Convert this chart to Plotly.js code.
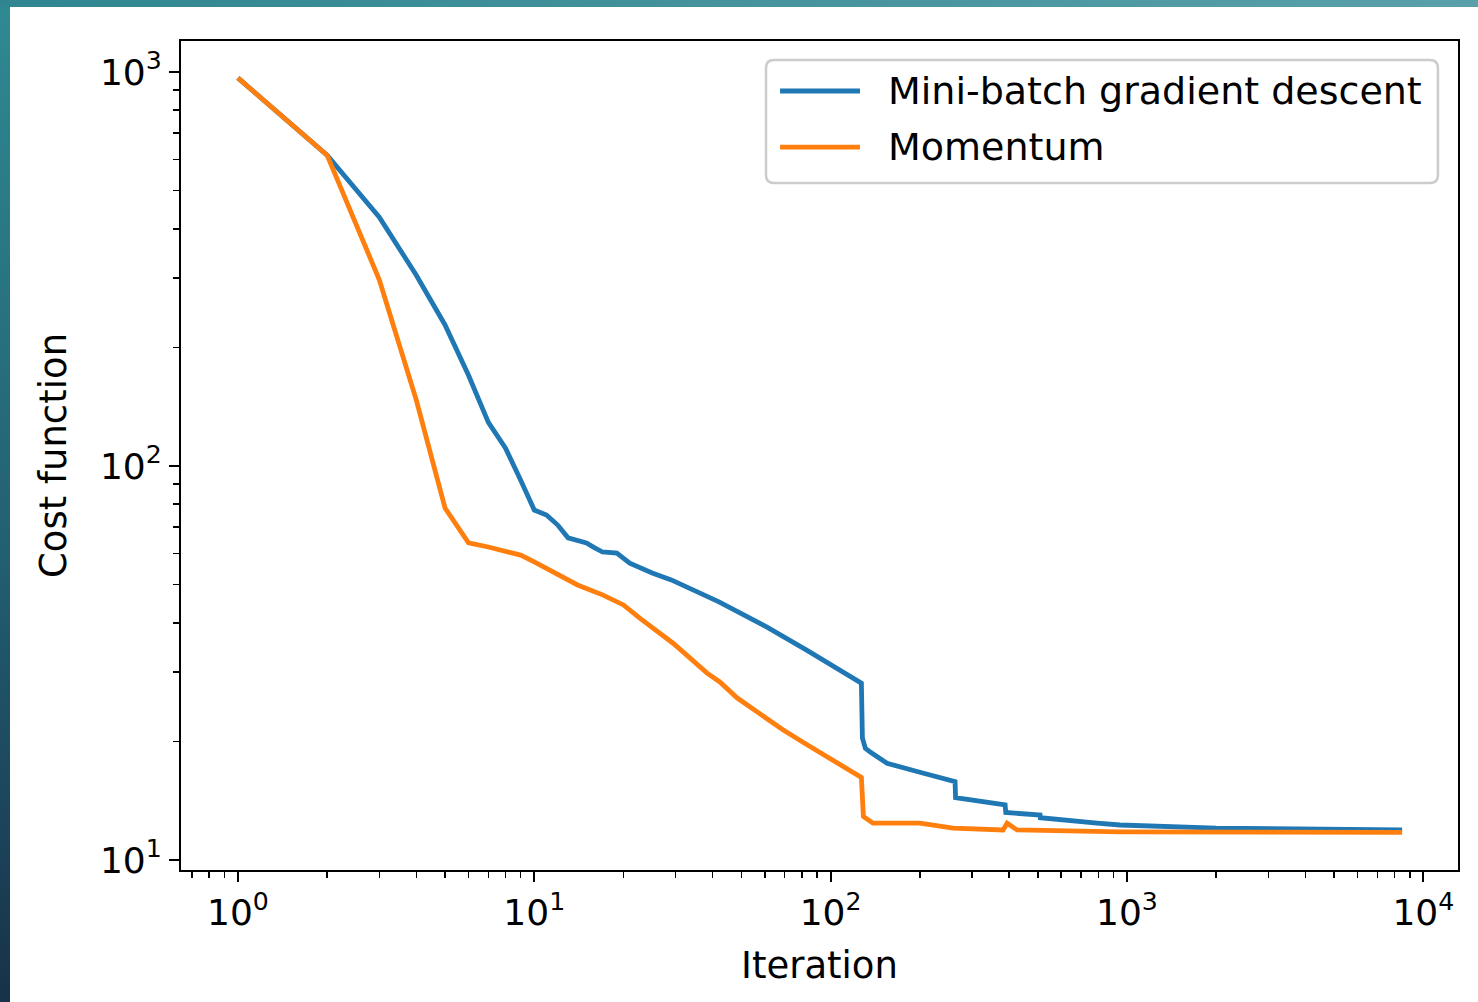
<!DOCTYPE html>
<html>
<head>
<meta charset="utf-8">
<script src="https://cdn.plot.ly/plotly-3.0.1.min.js"></script>
<style>
  html, body { margin:0; padding:0; width:1478px; height:1002px; overflow:hidden; }
  body { background: linear-gradient(to bottom, #2f8a94 0%, #235f72 55%, #17324a 100%); position:relative; }
  #topstrip { position:absolute; left:0; top:0; width:1478px; height:7px; background: linear-gradient(to right, #2f8690, #5aa0aa); }
  #chart { position:absolute; left:10px; top:7px; width:1468px; height:995px; background:#fff; }
</style>
</head>
<body>
<div id="topstrip"></div>
<div id="chart"></div>
<script>
// Data
const seriesNames = ["Mini-batch gradient descent", "Momentum"];
const seriesColors = ["#1f77b4", "#ff7f0e"];
const miniBatchIter = [1, 2, 3, 4, 5, 6, 7, 8, 9, 10, 11, 12, 13, 14, 15, 16, 17, 19, 21, 25, 29, 42, 61, 83, 108, 127, 128, 131, 136, 145, 155, 200, 263, 264, 382, 388, 390, 509, 510, 643, 793, 948, 2000, 8480];
const miniBatchCost = [966, 615, 428, 305, 228, 170, 129, 111, 92, 77.3, 75.1, 70.8, 65.7, 64.9, 63.8, 62, 60.5, 60.1, 56.7, 53.5, 51.4, 45.2, 39.0, 34.1, 30.4, 28.1, 20.4, 19.2, 18.8, 18.2, 17.6, 16.7, 15.8, 14.4, 13.8, 13.8, 13.2, 13.0, 12.8, 12.56, 12.4, 12.27, 12.05, 11.92];
const momentumIter = [1, 2, 3, 4, 5, 6, 7, 9, 10, 13, 14, 17, 20, 22.7, 29.4, 38.3, 42.3, 48.3, 53.4, 61, 69, 80.7, 94.3, 127, 129, 139, 200, 259, 382, 394, 426, 564, 948, 8480];
const momentumCost = [966, 615, 297, 147, 78.2, 63.8, 62.3, 59.4, 57.1, 51.4, 49.9, 47.1, 44.4, 41.1, 35.5, 29.8, 28.3, 25.8, 24.5, 22.7, 21.4, 19.9, 18.5, 16.2, 12.9, 12.4, 12.4, 12.05, 11.92, 12.4, 11.92, 11.85, 11.78, 11.75];
const xTickVals = [1, 10, 100, 1000, 10000];
const xTickText = ["10<sup>0</sup>", "10<sup>1</sup>", "10<sup>2</sup>", "10<sup>3</sup>", "10<sup>4</sup>"];
const yTickVals = [10, 100, 1000];
const yTickText = ["10<sup>1</sup>", "10<sup>2</sup>", "10<sup>3</sup>"];
const xTitle = "Iteration";
const yTitle = "Cost function";

// minor log tick positions (2..9 within each decade)
function minorTicks(d0, d1) {
  const out = [];
  for (let d = d0; d <= d1; d++) for (let m = 2; m <= 9; m++) out.push(m * Math.pow(10, d));
  return out;
}

const font = "DejaVu Sans, sans-serif";
const LW = 4.8;
const traces = [
  { x: miniBatchIter, y: miniBatchCost, name: seriesNames[0], type: "scatter", mode: "lines",
    line: { color: seriesColors[0], width: LW } },
  { x: momentumIter, y: momentumCost, name: seriesNames[1], type: "scatter", mode: "lines",
    line: { color: seriesColors[1], width: LW } }
];

const axisCommon = {
  type: "log", showgrid: false, zeroline: false, showline: true, mirror: true,
  linecolor: "black", linewidth: 2, ticks: "outside", ticklen: 10, tickwidth: 2,
  tickcolor: "black", tickmode: "array",
  tickfont: { family: font, size: 36, color: "black" }
};

// Legend box (matplotlib style) built from layout shapes + annotations
const lg = { x0: 0.4581, x1: 0.9843, y0: 0.8287, y1: 0.9771, rx: 8 / 1277, ry: 8 / 829 };
const boxPath =
  `M${lg.x0 + lg.rx},${lg.y1} L${lg.x1 - lg.rx},${lg.y1} Q${lg.x1},${lg.y1} ${lg.x1},${lg.y1 - lg.ry} ` +
  `L${lg.x1},${lg.y0 + lg.ry} Q${lg.x1},${lg.y0} ${lg.x1 - lg.rx},${lg.y0} ` +
  `L${lg.x0 + lg.rx},${lg.y0} Q${lg.x0},${lg.y0} ${lg.x0},${lg.y0 + lg.ry} ` +
  `L${lg.x0},${lg.y1 - lg.ry} Q${lg.x0},${lg.y1} ${lg.x0 + lg.rx},${lg.y1} Z`;
const legendRows = [0.9397, 0.8721];
const shapes = [
  { type: "path", xref: "paper", yref: "paper", path: boxPath,
    fillcolor: "rgba(255,255,255,0.8)", line: { color: "#cccccc", width: 2.5 }, layer: "above" }
];
const annotations = [];
seriesNames.forEach((nm, i) => {
  shapes.push({ type: "line", xref: "paper", yref: "paper", x0: 0.4691, x1: 0.5317,
    y0: legendRows[i], y1: legendRows[i], line: { color: seriesColors[i], width: LW }, layer: "above" });
  annotations.push({ xref: "paper", yref: "paper", x: 0.5520, y: legendRows[i], xanchor: "left", yanchor: "middle",
    text: nm, showarrow: false, font: { family: font, size: 38, color: "black" } });
});

const layout = {
  width: 1468, height: 995,
  margin: { l: 171, r: 20, t: 34, b: 132 },
  paper_bgcolor: "white", plot_bgcolor: "white",
  font: { family: font, color: "black" },
  showlegend: false,
  shapes: shapes,
  annotations: annotations,
  xaxis: Object.assign({}, axisCommon, {
    range: [-0.192, 4.117],
    tickvals: xTickVals, ticktext: xTickText,
    minor: { tickmode: "array", tickvals: minorTicks(-1, 3), ticks: "outside", ticklen: 6, tickwidth: 1.5, tickcolor: "black", showgrid: false },
    title: { text: xTitle, font: { family: font, size: 37, color: "black" }, standoff: 20 }
  }),
  yaxis: Object.assign({}, axisCommon, {
    range: [0.9746, 3.0787],
    tickvals: yTickVals, ticktext: yTickText,
    minor: { tickmode: "array", tickvals: minorTicks(0, 2), ticks: "outside", ticklen: 6, tickwidth: 1.5, tickcolor: "black", showgrid: false },
    title: { text: yTitle, font: { family: font, size: 37, color: "black" }, standoff: 22 }
  })
};

Plotly.newPlot("chart", traces, layout, { staticPlot: true, displayModeBar: false });
</script>
</body>
</html>
